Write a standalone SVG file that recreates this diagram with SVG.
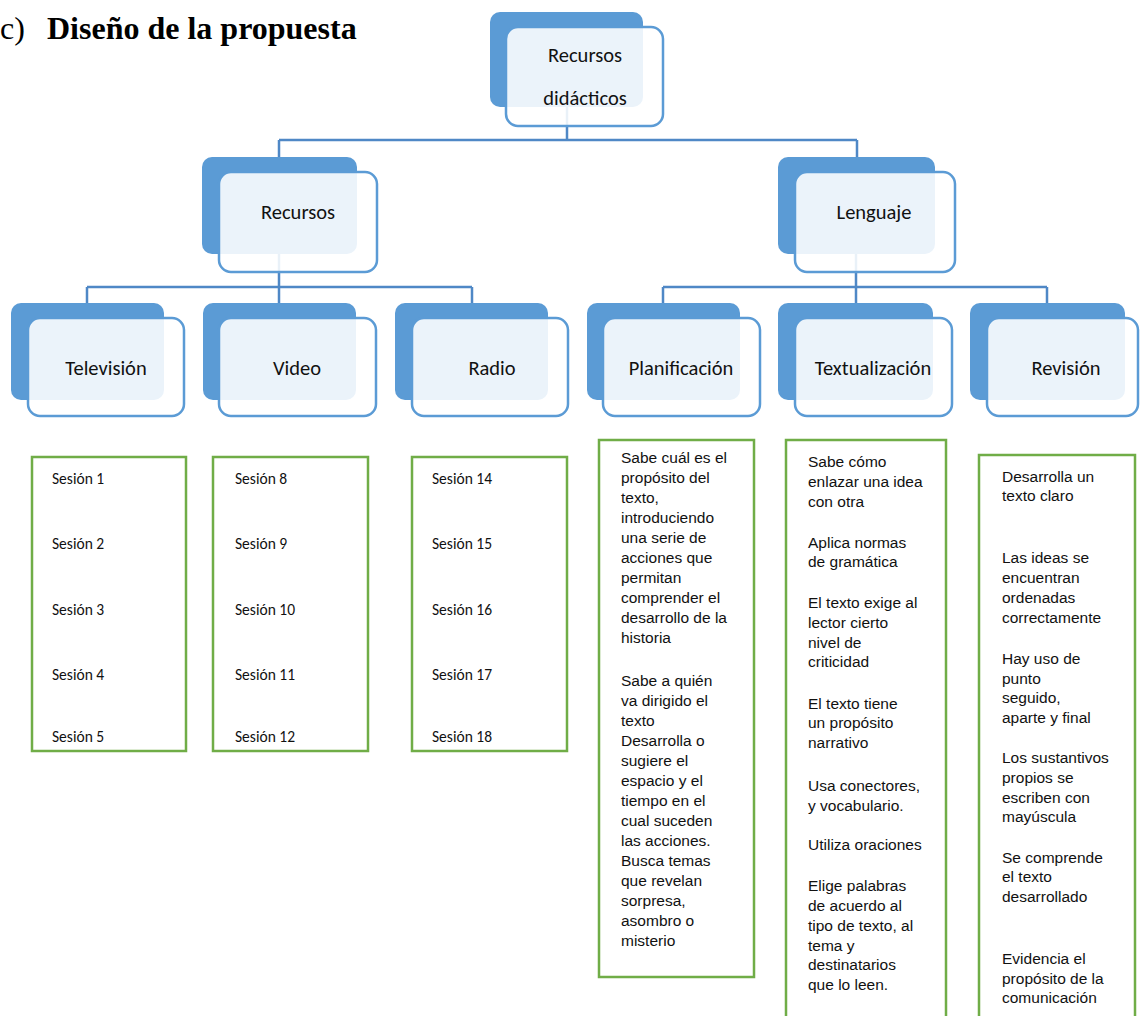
<svg xmlns="http://www.w3.org/2000/svg" width="1140" height="1016" viewBox="0 0 1140 1016">
<style>
.dark{fill:#5B9BD5}
.light{fill:#fff;fill-opacity:0.88;stroke:#5B9BD5;stroke-width:2.5}
.lbl{font-family:Carlito,Lato,sans-serif;font-size:20.5px;fill:#111;text-anchor:middle}
.conn{stroke:#4F88C6;stroke-width:2.5;fill:none}
.gbox{fill:#fff;stroke:#70AD47;stroke-width:2.5}
.ses{font-family:Carlito,Lato,sans-serif;font-size:15.5px;fill:#111}
.crit{font-family:"Liberation Sans",Arial,sans-serif;font-size:15.5px;fill:#111}
.title{font-family:"Liberation Serif","Times New Roman",serif;font-size:32px;fill:#000}
</style>
<rect width="1140" height="1016" fill="#fff"/>
<g id="title">
<text class="title" x="0" y="39">c)</text>
<text class="title" x="47" y="39" font-weight="bold">Diseño de la propuesta</text>
</g>
<g id="connectors">
<path class="conn" d="M567 107V140M279 140H857M279 140V157M857 140V157"/>
<path class="conn" d="M279 254V303M87 287H472M87 287V303M472 287V303"/>
<path class="conn" d="M856 254V303M663 287H1047M663 287V303M1047 287V303"/>
</g>
<g id="n-recursos-didacticos">
<rect class="dark" x="490" y="12" width="153" height="95" rx="10"/>
<rect class="light" x="506" y="27" width="157" height="99" rx="12"/>
<text class="lbl" x="585" y="62">Recursos</text>
<text class="lbl" x="585" y="105">didácticos</text>
</g>
<g id="n-recursos">
<rect class="dark" x="202" y="157" width="155" height="97" rx="10"/>
<rect class="light" x="219" y="172" width="158" height="100" rx="12"/>
<text class="lbl" x="298" y="219">Recursos</text>
</g>
<g id="n-lenguaje">
<rect class="dark" x="778" y="157" width="157" height="97" rx="10"/>
<rect class="light" x="795" y="172" width="160" height="100" rx="12"/>
<text class="lbl" x="874" y="219">Lenguaje</text>
</g>
<g id="n-television">
<rect class="dark" x="11" y="303" width="153" height="97" rx="10"/>
<rect class="light" x="28" y="318" width="156" height="98" rx="12"/>
<text class="lbl" x="106" y="375">Televisión</text>
</g>
<g id="n-video">
<rect class="dark" x="203" y="303" width="153" height="97" rx="10"/>
<rect class="light" x="219" y="318" width="157" height="98" rx="12"/>
<text class="lbl" x="297" y="375">Video</text>
</g>
<g id="n-radio">
<rect class="dark" x="395" y="303" width="153" height="97" rx="10"/>
<rect class="light" x="412" y="318" width="156" height="98" rx="12"/>
<text class="lbl" x="492" y="375">Radio</text>
</g>
<g id="n-planificacion">
<rect class="dark" x="587" y="303" width="153" height="97" rx="10"/>
<rect class="light" x="603" y="318" width="157" height="98" rx="12"/>
<text class="lbl" x="681" y="375">Planificación</text>
</g>
<g id="n-textualizacion">
<rect class="dark" x="778" y="303" width="155" height="97" rx="10"/>
<rect class="light" x="795" y="318" width="157" height="98" rx="12"/>
<text class="lbl" x="873" y="375">Textualización</text>
</g>
<g id="n-revision">
<rect class="dark" x="970" y="303" width="155" height="97" rx="10"/>
<rect class="light" x="987" y="318" width="151" height="98" rx="12"/>
<text class="lbl" x="1066" y="375">Revisión</text>
</g>
<g id="b-television">
<rect class="gbox" x="32" y="457" width="154" height="294"/>
<text class="ses" x="52" y="484">Sesión 1</text>
<text class="ses" x="52" y="549">Sesión 2</text>
<text class="ses" x="52" y="615">Sesión 3</text>
<text class="ses" x="52" y="680">Sesión 4</text>
<text class="ses" x="52" y="742">Sesión 5</text>
</g>
<g id="b-video">
<rect class="gbox" x="213" y="457" width="155" height="294"/>
<text class="ses" x="235" y="484">Sesión 8</text>
<text class="ses" x="235" y="549">Sesión 9</text>
<text class="ses" x="235" y="615">Sesión 10</text>
<text class="ses" x="235" y="680">Sesión 11</text>
<text class="ses" x="235" y="742">Sesión 12</text>
</g>
<g id="b-radio">
<rect class="gbox" x="412" y="457" width="155" height="294"/>
<text class="ses" x="432" y="484">Sesión 14</text>
<text class="ses" x="432" y="549">Sesión 15</text>
<text class="ses" x="432" y="615">Sesión 16</text>
<text class="ses" x="432" y="680">Sesión 17</text>
<text class="ses" x="432" y="742">Sesión 18</text>
</g>
<g id="b-planificacion">
<rect class="gbox" x="599" y="440" width="155" height="537"/>
<text class="crit">
<tspan x="621" y="463">Sabe cuál es el</tspan>
<tspan x="621" y="483">propósito del</tspan>
<tspan x="621" y="503">texto,</tspan>
<tspan x="621" y="523">introduciendo</tspan>
<tspan x="621" y="543">una serie de</tspan>
<tspan x="621" y="563">acciones que</tspan>
<tspan x="621" y="583">permitan</tspan>
<tspan x="621" y="603">comprender el</tspan>
<tspan x="621" y="623">desarrollo de la</tspan>
<tspan x="621" y="643">historia</tspan>
<tspan x="621" y="686">Sabe a quién</tspan>
<tspan x="621" y="706">va dirigido el</tspan>
<tspan x="621" y="726">texto</tspan>
<tspan x="621" y="746">Desarrolla o</tspan>
<tspan x="621" y="766">sugiere el</tspan>
<tspan x="621" y="786">espacio y el</tspan>
<tspan x="621" y="806">tiempo en el</tspan>
<tspan x="621" y="826">cual suceden</tspan>
<tspan x="621" y="846">las acciones.</tspan>
<tspan x="621" y="866">Busca temas</tspan>
<tspan x="621" y="886">que revelan</tspan>
<tspan x="621" y="906">sorpresa,</tspan>
<tspan x="621" y="926">asombro o</tspan>
<tspan x="621" y="946">misterio</tspan>
</text>
</g>
<g id="b-textualizacion">
<rect class="gbox" x="786" y="440" width="160" height="600"/>
<text class="crit">
<tspan x="808" y="467">Sabe cómo</tspan>
<tspan x="808" y="487">enlazar una idea</tspan>
<tspan x="808" y="507">con otra</tspan>
<tspan x="808" y="548">Aplica normas</tspan>
<tspan x="808" y="567">de gramática</tspan>
<tspan x="808" y="608">El texto exige al</tspan>
<tspan x="808" y="628">lector cierto</tspan>
<tspan x="808" y="648">nivel de</tspan>
<tspan x="808" y="667">criticidad</tspan>
<tspan x="808" y="709">El texto tiene</tspan>
<tspan x="808" y="728">un propósito</tspan>
<tspan x="808" y="748">narrativo</tspan>
<tspan x="808" y="791">Usa conectores,</tspan>
<tspan x="808" y="811">y vocabulario.</tspan>
<tspan x="808" y="850">Utiliza oraciones</tspan>
<tspan x="808" y="891">Elige palabras</tspan>
<tspan x="808" y="911">de acuerdo al</tspan>
<tspan x="808" y="931">tipo de texto, al</tspan>
<tspan x="808" y="951">tema y</tspan>
<tspan x="808" y="970">destinatarios</tspan>
<tspan x="808" y="990">que lo leen.</tspan>
</text>
</g>
<g id="b-revision">
<rect class="gbox" x="979" y="455" width="156" height="600"/>
<text class="crit">
<tspan x="1002" y="482">Desarrolla un</tspan>
<tspan x="1002" y="501">texto claro</tspan>
<tspan x="1002" y="563">Las ideas se</tspan>
<tspan x="1002" y="583">encuentran</tspan>
<tspan x="1002" y="603">ordenadas</tspan>
<tspan x="1002" y="623">correctamente</tspan>
<tspan x="1002" y="664">Hay uso de</tspan>
<tspan x="1002" y="684">punto</tspan>
<tspan x="1002" y="703">seguido,</tspan>
<tspan x="1002" y="723">aparte y final</tspan>
<tspan x="1002" y="763">Los sustantivos</tspan>
<tspan x="1002" y="783">propios se</tspan>
<tspan x="1002" y="803">escriben con</tspan>
<tspan x="1002" y="822">mayúscula</tspan>
<tspan x="1002" y="863">Se comprende</tspan>
<tspan x="1002" y="882">el texto</tspan>
<tspan x="1002" y="902">desarrollado</tspan>
<tspan x="1002" y="964">Evidencia el</tspan>
<tspan x="1002" y="984">propósito de la</tspan>
<tspan x="1002" y="1003">comunicación</tspan>
</text>
</g>
</svg>
